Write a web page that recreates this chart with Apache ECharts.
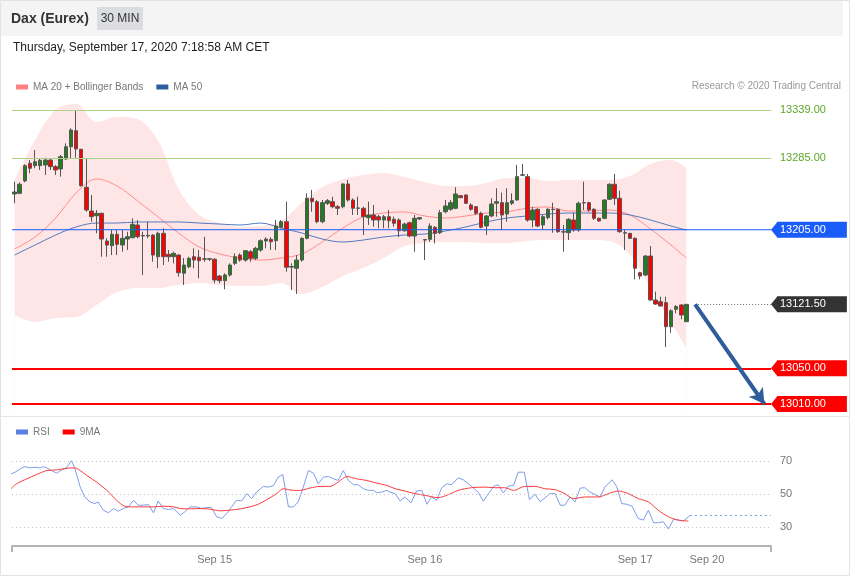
<!DOCTYPE html>
<html><head><meta charset="utf-8">
<script src="https://cdn.jsdelivr.net/npm/echarts@6/dist/echarts.min.js"></script>
<style>html,body{margin:0;padding:0;background:#fff}#c{width:850px;height:576px}</style>
</head><body><div id="c"></div>
<script>
// ---------- data ----------
const slotCount = 148;                       // category slots on the time axis (incl. empty future slots)
const dayTickIndex = [39, 80, 121, 135];
const dayTickText = ['Sep 15', 'Sep 16', 'Sep 17', 'Sep 20'];

// candles: [open, close, low, high]
const ohlc = [
[13245.0,13247.2,13234.6,13258.8],[13245.8,13255.9,13244.7,13258.1],[13259.6,13276.7,13258.1,13278.3],[13279.4,13273.8,13268.2,13283.0],
[13276.7,13281.1,13273.8,13294.2],[13276.7,13282.7,13271.9,13285.0],[13277.5,13283.0,13266.3,13285.6],[13283.0,13275.6,13271.9,13285.0],
[13275.6,13271.9,13266.3,13277.5],[13273.0,13286.7,13264.4,13288.6],[13284.2,13297.9,13283.0,13301.7],[13297.9,13316.6,13285.0,13318.5],
[13315.8,13295.4,13285.6,13339.0],[13295.0,13254.3,13253.2,13295.5],[13252.5,13227.1,13225.2,13285.3],[13226.0,13219.6,13214.0,13243.9],
[13220.7,13223.4,13201.0,13227.1],[13223.4,13194.6,13174.8,13224.0],[13192.4,13187.9,13174.8,13195.4],[13187.2,13199.9,13176.7,13204.7],
[13199.9,13188.7,13176.7,13204.7],[13187.9,13195.4,13180.4,13204.7],[13194.6,13197.2,13182.3,13202.8],[13196.1,13211.1,13195.4,13217.8],
[13210.3,13197.2,13195.4,13215.9],[13198.5,13198.0,13154.4,13202.8],[13198.0,13198.8,13195.4,13214.0],[13199.1,13176.7,13169.2,13199.9],
[13174.8,13201.0,13161.9,13202.8],[13201.0,13174.8,13165.5,13206.6],[13177.5,13174.8,13169.2,13182.3],[13174.8,13178.6,13167.4,13180.4],
[13176.7,13156.9,13152.5,13177.5],[13156.3,13165.5,13143.2,13173.4],[13163.6,13173.0,13161.9,13174.8],[13174.8,13171.1,13161.9,13184.2],
[13174.2,13170.4,13150.7,13182.3],[13172.0,13172.5,13169.2,13197.2],[13172.5,13172.0,13170.0,13173.5],[13172.0,13148.8,13145.1,13173.0],
[13153.2,13148.0,13145.1,13154.4],[13148.0,13154.4,13138.4,13156.3],[13154.4,13165.5,13152.5,13167.4],[13167.4,13174.8,13165.5,13178.6],
[13176.7,13171.1,13169.2,13178.6],[13171.1,13181.6,13169.2,13182.3],[13180.4,13173.0,13169.2,13182.3],[13173.0,13184.2,13171.1,13186.0],
[13182.3,13192.7,13180.4,13194.3],[13192.4,13194.6,13184.2,13196.6],[13194.3,13191.6,13182.3,13196.6],[13192.7,13209.2,13182.3,13215.9],
[13207.7,13214.0,13206.6,13215.9],[13214.0,13163.0,13158.0,13236.4],[13163.8,13163.2,13137.6,13167.4],[13161.9,13171.1,13133.1,13176.7],
[13171.1,13195.4,13169.2,13196.6],[13195.4,13240.2,13194.3,13245.8],[13240.2,13236.4,13225.2,13249.5],[13236.4,13214.0,13212.2,13238.3],
[13214.0,13235.3,13212.2,13238.3],[13234.6,13237.5,13232.7,13239.4],[13236.4,13230.8,13229.0,13242.0],[13230.8,13229.0,13221.5,13232.7],
[13230.8,13256.2,13229.0,13257.0],[13256.2,13238.3,13236.4,13260.7],[13238.3,13229.0,13221.5,13240.2],[13229.0,13229.4,13221.5,13242.0],
[13229.0,13219.6,13199.1,13230.8],[13218.5,13221.5,13210.3,13236.4],[13221.5,13215.9,13208.4,13232.7],[13219.6,13215.9,13206.6,13221.5],
[13215.9,13219.6,13206.6,13221.5],[13219.6,13215.1,13206.6,13227.1],[13216.7,13212.2,13208.4,13219.6],[13215.9,13203.9,13196.6,13217.8],
[13203.9,13211.4,13202.8,13212.9],[13212.9,13198.0,13196.6,13214.0],[13198.0,13217.8,13180.4,13221.5],[13217.0,13218.5,13216.0,13219.3],
[13194.0,13193.5,13171.1,13194.5],[13194.3,13209.2,13191.6,13212.2],[13207.7,13201.0,13189.8,13209.2],[13201.7,13224.1,13200.2,13227.1],
[13225.2,13231.6,13223.4,13238.3],[13227.9,13235.3,13226.3,13238.3],[13229.0,13245.0,13227.9,13252.5],[13243.1,13240.9,13240.2,13243.9],
[13243.9,13234.6,13233.8,13244.7],[13232.7,13227.9,13226.3,13234.6],[13230.8,13223.4,13221.5,13231.6],[13223.4,13207.7,13206.6,13225.2],
[13209.2,13220.4,13199.1,13221.5],[13220.4,13233.8,13219.0,13240.2],[13234.6,13236.4,13219.6,13251.4],[13235.3,13221.5,13204.7,13246.5],
[13222.6,13235.3,13214.0,13251.4],[13234.6,13237.5,13232.7,13245.8],[13238.3,13264.4,13237.5,13277.5],[13266.0,13266.5,13265.2,13278.6],
[13264.4,13215.9,13214.0,13267.4],[13215.9,13227.1,13207.7,13230.8],[13227.9,13209.2,13207.7,13229.0],[13210.3,13219.6,13204.7,13221.5],
[13218.5,13227.9,13216.7,13229.0],[13227.9,13227.5,13201.7,13235.3],[13227.9,13202.8,13201.7,13229.0],[13202.8,13202.4,13180.4,13210.3],
[13201.7,13216.7,13193.5,13217.8],[13215.9,13204.7,13202.8,13224.1],[13204.7,13234.6,13202.8,13236.4],[13235.3,13235.0,13227.1,13258.8],
[13235.3,13227.1,13225.2,13236.4],[13227.9,13217.8,13215.9,13229.0],[13217.8,13214.8,13214.0,13218.5],[13217.8,13238.3,13216.7,13239.1],
[13239.1,13255.9,13238.3,13257.0],[13255.9,13240.2,13232.7,13267.4],[13240.2,13202.8,13201.7,13248.7],[13201.7,13201.2,13182.3,13204.7],
[13201.0,13195.4,13194.6,13201.4],[13195.4,13161.9,13149.5,13196.6],[13156.9,13153.2,13149.5,13158.0],[13154.4,13175.6,13153.2,13176.7],
[13175.6,13126.4,13125.6,13186.8],[13126.4,13121.9,13120.8,13135.7],[13124.5,13119.7,13119.0,13130.1],[13123.4,13096.5,13073.8,13130.1],
[13096.5,13114.4,13089.5,13116.0],[13116.0,13119.0,13111.5,13120.8],[13120.8,13109.6,13104.8,13121.9],[13102.1,13121.5,13101.8,13122.0]
];

// Bollinger bands / moving averages, read at these candle positions
const bbIdx = [0,4,8,12,16,20,24,28,32,36,40,44,48,52,56,60,64,68,72,76,80,84,88,92,96,100,104,108,112,116,120,124,128,131];
const bbUpper = [13260.7,13305.4,13339.0,13345.7,13325.6,13331.2,13328.9,13304.3,13250.6,13221.5,13212.5,13208.1,13209.2,13214.8,13234.9,13252.8,13261.8,13266.3,13268.5,13264.0,13258.4,13253.9,13253.9,13257.3,13262.9,13262.9,13259.5,13260.7,13260.7,13260.7,13265.1,13278.6,13283.0,13274.1];
const bbLower = [13109.6,13101.8,13106.2,13107.4,13120.8,13135.3,13139.8,13139.8,13143.2,13145.4,13143.2,13142.0,13142.0,13145.4,13133.1,13140.9,13153.2,13162.2,13173.4,13186.8,13190.2,13191.3,13191.3,13190.2,13190.2,13192.4,13193.5,13193.5,13193.5,13192.4,13176.7,13139.8,13101.8,13072.7];
const ma20 = [13183.5,13196.9,13218.1,13246.1,13261.8,13253.9,13237.2,13219.3,13201.4,13185.7,13177.9,13173.4,13171.1,13173.4,13177.9,13191.3,13206.9,13219.3,13223.7,13224.9,13220.4,13218.1,13220.4,13223.7,13224.9,13229.3,13230.5,13226.0,13226.0,13227.1,13221.5,13205.8,13187.9,13173.4];
const ma50 = [13176.7,13187.9,13199.1,13208.1,13212.5,13212.5,13213.7,13213.7,13213.7,13212.5,13211.4,13210.3,13212.5,13206.9,13201.4,13194.6,13191.3,13193.5,13196.9,13199.1,13200.2,13203.6,13208.1,13213.7,13218.1,13220.4,13222.6,13223.7,13223.7,13223.7,13221.5,13215.9,13209.2,13204.7];

// horizontal levels
const resistanceLevels = [13339, 13285];
const pivotLevel = 13205;
const lastPrice = 13121.5;
const supportLevels = [13050, 13010];
// projection arrow (candle position, price)
const projIdx = [132.7, 146.2];
const projPrice = [13121.5, 13010];

// RSI panel
const rsiIdx = [-0.9,0.1,1.1,2.0,3.0,4.0,5.0,5.6,6.3,7.2,8.2,9.2,10.2,11.1,11.8,12.8,13.7,14.7,15.7,16.3,17.3,18.3,19.3,20.2,21.2,22.2,23.2,24.1,25.1,26.1,27.1,28.0,29.0,30.0,31.0,32.3,33.2,34.2,35.5,36.5,37.5,38.4,39.4,40.4,41.4,42.3,43.3,44.3,45.3,46.2,47.2,48.5,49.5,50.5,51.4,52.3,53.4,54.4,55.3,56.3,57.3,58.3,59.2,60.2,61.2,62.2,63.1,64.1,65.1,66.1,67.0,68.0,69.0,70.0,70.6,71.6,72.6,73.2,74.2,75.2,76.1,77.3,78.4,79.4,80.4,81.3,82.3,83.3,84.3,85.2,86.5,87.5,88.5,89.5,90.4,91.4,92.4,93.4,94.3,95.3,96.3,97.3,98.2,99.4,100.4,101.5,102.5,103.4,104.4,105.4,106.4,107.3,108.3,109.3,110.3,111.2,112.2,113.2,114.2,115.1,116.5,117.4,118.4,119.4,120.4,121.6,122.6,123.6,124.6,125.5,126.5,127.5,128.5,129.4,130.4,131.7];
const rsiVal = [61.8,63.2,65.2,66.6,65.8,66.2,65.8,66.6,65.8,64.2,62.6,64.6,66.2,70.2,65.2,54.2,48.2,45.2,44.2,45.2,40.2,38.6,41.2,39.6,41.2,42.2,46.2,43.2,43.2,43.6,38.6,45.8,41.2,40.6,41.2,37.2,39.2,42.2,42.2,41.2,41.8,41.8,36.2,35.2,38.2,42.2,46.2,45.8,50.2,47.2,51.2,54.6,54.2,55.2,60.2,61.8,42.2,42.2,45.2,54.2,64.2,62.6,56.2,60.2,60.6,59.2,58.2,64.2,58.2,55.6,55.6,53.2,52.2,52.2,50.8,51.2,52.2,51.2,50.2,45.8,48.2,44.6,51.8,52.2,43.8,48.2,46.2,53.8,56.2,55.6,59.8,58.6,56.2,53.6,51.2,45.6,50.2,54.6,55.6,50.6,54.8,55.2,63.2,63.2,46.6,49.8,45.2,47.6,50.2,50.2,43.2,43.2,48.2,45.2,53.6,53.8,51.2,49.6,48.2,54.2,58.6,54.6,44.2,43.8,42.6,35.2,34.2,40.2,32.6,32.6,33.2,28.8,34.6,34.2,33.6,37.0];
const ma9Idx = [-0.9,0.4,2.4,4.3,6.3,8.2,10.2,11.8,12.8,14.1,16.0,18.0,19.9,21.5,23.2,25.1,27.1,29.0,31.0,32.3,34.2,36.2,38.1,40.1,42.0,44.0,45.9,47.5,49.2,51.1,52.4,54.4,55.7,57.6,59.6,61.5,63.1,64.8,66.7,68.7,70.6,72.6,74.2,76.1,78.1,80.0,82.6,84.6,86.5,89.1,91.7,93.7,95.6,97.3,99.5,101.5,103.4,105.4,107.3,109.0,111.2,113.8,115.8,117.7,119.7,121.6,123.6,125.5,127.5,129.4,131.4];
const ma9Val = [52.6,56.2,59.2,61.8,64.2,64.6,65.6,65.8,64.2,61.2,57.2,52.2,46.2,42.6,42.2,42.2,42.2,42.6,42.2,41.2,41.0,41.2,40.8,39.8,40.2,41.0,42.2,43.8,46.6,50.2,53.2,52.2,52.2,53.6,54.6,54.6,57.2,60.6,59.2,58.2,56.6,55.2,53.2,51.8,50.2,49.2,47.8,49.6,52.2,53.8,54.2,53.8,53.8,52.2,54.6,54.6,53.2,52.6,50.2,47.2,48.2,48.2,50.2,51.8,50.2,47.2,45.2,40.2,36.2,34.2,33.6];
const rsiLevels = [70, 50, 30];

// ---------- chart ----------
const FONT = "'Liberation Sans', Arial, Helvetica, sans-serif";
const chart = echarts.init(document.getElementById('c'), null, {renderer: 'canvas'});
const cats = [];
for (let i = 0; i < slotCount; i++) cats.push('');
dayTickIndex.forEach((d, k) => { cats[d] = dayTickText[k]; });
const xMin = -0.5, xMax = slotCount - 0.5;
const pairs = (xs, ys) => xs.map((x, k) => [x, ys[k]]);

const GREEN_LINE = '#a8d488', GREEN_TXT = '#5ca82a', BLUE = '#1a5cf8', RED = '#ff0000', DARK = '#333333';
const tagLabel = (bg, txt) => ({show: true, position: 'end', distance: 6, formatter: txt, color: '#fff',
  backgroundColor: bg, padding: [2, 21, 2, 3], fontSize: 11, lineHeight: 12, fontFamily: FONT});
const plainLabel = (txt) => ({show: true, position: 'end', distance: 9, formatter: txt, color: GREEN_TXT, fontSize: 11, fontFamily: FONT});

// one helper series per kind of level line
const levelSeries = (name, color, lineStyle, data, z) => ({
  name, type: 'line', xAxisIndex: 1, yAxisIndex: 0, data: [], symbol: 'none', silent: true, color, z: z || 4,
  markLine: {silent: true, symbol: ['none', 'none'], animation: false, lineStyle: Object.assign({color}, lineStyle), label: {show: false}, data}
});

const rsiLast = [rsiIdx[rsiIdx.length - 1], rsiVal[rsiVal.length - 1]];

const option = {
  animation: false,
  textStyle: {fontFamily: FONT},
  grid: [
    {left: 12, right: 79, top: 91.23, height: 321.71},
    {left: 12, right: 79, top: 444.5, height: 101.5}
  ],
  xAxis: [
    {type: 'category', gridIndex: 0, data: cats, boundaryGap: true, show: false},
    {type: 'value', gridIndex: 0, min: xMin, max: xMax, show: false},
    {type: 'category', gridIndex: 1, data: cats, boundaryGap: true,
      axisLine: {lineStyle: {color: '#b4b4b4', width: 2}},
      axisTick: {show: true, interval: (i) => i === 0, length: 6, lineStyle: {color: '#b4b4b4', width: 2}},
      axisLabel: {interval: 0, color: '#777', fontSize: 11, margin: 8, fontFamily: FONT},
      splitLine: {show: false}},
    {type: 'value', gridIndex: 1, min: xMin, max: xMax, show: false}
  ],
  yAxis: [
    {type: 'value', gridIndex: 0, min: 13000, max: 13360, show: false, splitLine: {show: false}, axisLine: {show: false}},
    {type: 'value', gridIndex: 1, min: 18.48, max: 80, show: false, splitLine: {show: false}, axisLine: {show: false}}
  ],
  legend: [
    {left: 11, top: 77, itemWidth: 12, itemHeight: 5, itemGap: 13, icon: 'rect', selectedMode: false,
      textStyle: {color: '#777', fontSize: 10, fontFamily: FONT},
      data: [{name: 'MA 20 + Bollinger Bands', itemStyle: {color: '#ff8080'}}, {name: 'MA 50', itemStyle: {color: '#2e5c9e'}}]},
    {left: 11, top: 422, itemWidth: 12, itemHeight: 5, itemGap: 13, icon: 'rect', selectedMode: false,
      textStyle: {color: '#777', fontSize: 10, fontFamily: FONT},
      data: [{name: 'RSI', itemStyle: {color: '#5b80e0'}}, {name: '9MA', itemStyle: {color: '#ff0000'}}]}
  ],
  series: [
    // band: pink area down from the upper band, covered with white below the lower band
    {name: 'bbUpper', type: 'line', xAxisIndex: 1, yAxisIndex: 0, data: pairs(bbIdx, bbUpper),
      symbol: 'none', smooth: 0.35, lineStyle: {width: 0}, areaStyle: {color: '#ffe6e6', opacity: 1, origin: 'start'}, silent: true, z: 1},
    {name: 'bbLower', type: 'line', xAxisIndex: 1, yAxisIndex: 0, data: pairs(bbIdx, bbLower),
      symbol: 'none', smooth: 0.35, lineStyle: {width: 0}, areaStyle: {color: '#ffffff', opacity: 1, origin: 'start'}, silent: true, z: 1},
    {name: 'MA 20 + Bollinger Bands', type: 'line', xAxisIndex: 1, yAxisIndex: 0, data: pairs(bbIdx, ma20),
      symbol: 'none', smooth: 0.35, color: '#ff8080', lineStyle: {width: 1, color: '#ff8c8c'}, silent: true, z: 2},
    {name: 'MA 50', type: 'line', xAxisIndex: 1, yAxisIndex: 0, data: pairs(bbIdx, ma50),
      symbol: 'none', smooth: 0.35, color: '#4a74bb', lineStyle: {width: 1, color: '#5079c0'}, silent: true, z: 2},
    {name: 'Dax', type: 'candlestick', xAxisIndex: 0, yAxisIndex: 0, data: ohlc, barWidth: 4,
      itemStyle: {color: '#237d1e', color0: '#ff0000', borderColor: '#555', borderColor0: '#555', borderWidth: 1}, z: 3},
    levelSeries('resistance', GREEN_LINE, {width: 1, type: 'solid'},
      resistanceLevels.map(v => ({yAxis: v, label: plainLabel(v.toFixed(2))}))),
    // pivot line drawn as a plain two-point line across the plot; its tag comes from an invisible markLine
    {name: 'pivotLine', type: 'line', xAxisIndex: 1, yAxisIndex: 0, data: [[xMin, pivotLevel], [xMax, pivotLevel]],
      symbol: 'none', silent: true, color: BLUE, lineStyle: {color: BLUE, width: 1, type: 'solid'}, z: 4,
      markLine: {silent: true, symbol: ['none', 'none'], animation: false, lineStyle: {width: 0, color: BLUE},
        data: [{yAxis: pivotLevel, label: tagLabel(BLUE, pivotLevel.toFixed(2))}]}},
    levelSeries('last', '#777777', {width: 1, type: [1, 2]},
      [[{coord: [projIdx[0], lastPrice]}, {coord: [xMax, lastPrice], label: tagLabel(DARK, lastPrice.toFixed(2))}]]),
    levelSeries('support', RED, {width: 2, type: 'solid'},
      supportLevels.map(v => ({yAxis: v, label: tagLabel(RED, v.toFixed(2))}))),
    levelSeries('projection', '#2f5d9c', {width: 4, type: 'solid'},
      [[{coord: [projIdx[0], projPrice[0]]}, {coord: [projIdx[1], projPrice[1]], symbol: 'arrow', symbolSize: [13, 15]}]], 5),
    {name: 'RSI', type: 'line', xAxisIndex: 3, yAxisIndex: 1, data: pairs(rsiIdx, rsiVal), symbol: 'none', clip: false,
      color: '#5b80e0', lineStyle: {width: 1, color: '#7e9cea'}, silent: true, z: 3,
      markLine: {silent: true, symbol: ['none', 'none'], animation: false,
        lineStyle: {color: '#c4c4c4', width: 1, type: [1, 3]},
        label: {show: true, position: 'end', distance: 9, formatter: '{c}', color: '#777', fontSize: 11, fontFamily: FONT},
        data: rsiLevels.map(v => ({yAxis: v}))}},
    {name: 'rsiExt', type: 'line', xAxisIndex: 3, yAxisIndex: 1, data: [rsiLast, [xMax, rsiLast[1]]], symbol: 'none',
      lineStyle: {width: 1, color: '#7e9cea', type: [2, 3]}, silent: true, z: 3},
    {name: '9MA', type: 'line', xAxisIndex: 3, yAxisIndex: 1, data: pairs(ma9Idx, ma9Val), symbol: 'none', smooth: 0.3, clip: false,
      color: '#ff0000', lineStyle: {width: 1, color: '#ff3b3b'}, silent: true, z: 4}
  ]
};
chart.setOption(option);

// ---------- header texts and level tag arrows ----------
const tagColors = [[pivotLevel, BLUE], [lastPrice, DARK], [supportLevels[0], RED], [supportLevels[1], RED]];
const gfx = [
  {type: 'rect', shape: {x: 0.5, y: 0.5, width: 849, height: 575}, style: {fill: 'none', stroke: '#e2e2e2', lineWidth: 1}, silent: true},
  {type: 'rect', shape: {x: 1, y: 1, width: 842, height: 35}, style: {fill: '#f4f4f4'}, silent: true},
  {type: 'text', x: 11, y: 19, style: {text: 'Dax (Eurex)', font: 'bold 14px ' + FONT, fill: '#333', verticalAlign: 'middle'}, silent: true},
  {type: 'rect', shape: {x: 97, y: 7, width: 46, height: 23}, style: {fill: '#dcdde1'}, silent: true},
  {type: 'text', x: 120, y: 19, style: {text: '30 MIN', font: '12px ' + FONT, fill: '#333', align: 'center', verticalAlign: 'middle'}, silent: true},
  {type: 'text', x: 13, y: 48, style: {text: 'Thursday, September 17, 2020 7:18:58 AM CET', font: '12px ' + FONT, fill: '#222', verticalAlign: 'middle'}, silent: true},
  {type: 'text', x: 841, y: 86, style: {text: 'Research \u00a9 2020 Trading Central', font: '10px ' + FONT, fill: '#999', align: 'right', verticalAlign: 'middle'}, silent: true},
  {type: 'line', shape: {x1: 1, y1: 416.5, x2: 849, y2: 416.5}, style: {stroke: '#e6e6e6', lineWidth: 1}, silent: true}
];
const gridRight = 850 - 79;
tagColors.forEach(([v, col]) => {
  const y = chart.convertToPixel({yAxisIndex: 0}, v);
  gfx.push({type: 'polygon', shape: {points: [[gridRight, y], [gridRight + 6.5, y - 8], [gridRight + 6.5, y + 8]]}, style: {fill: col}, silent: true, z: 10});
});
chart.setOption({graphic: gfx});
</script>
</body></html>
